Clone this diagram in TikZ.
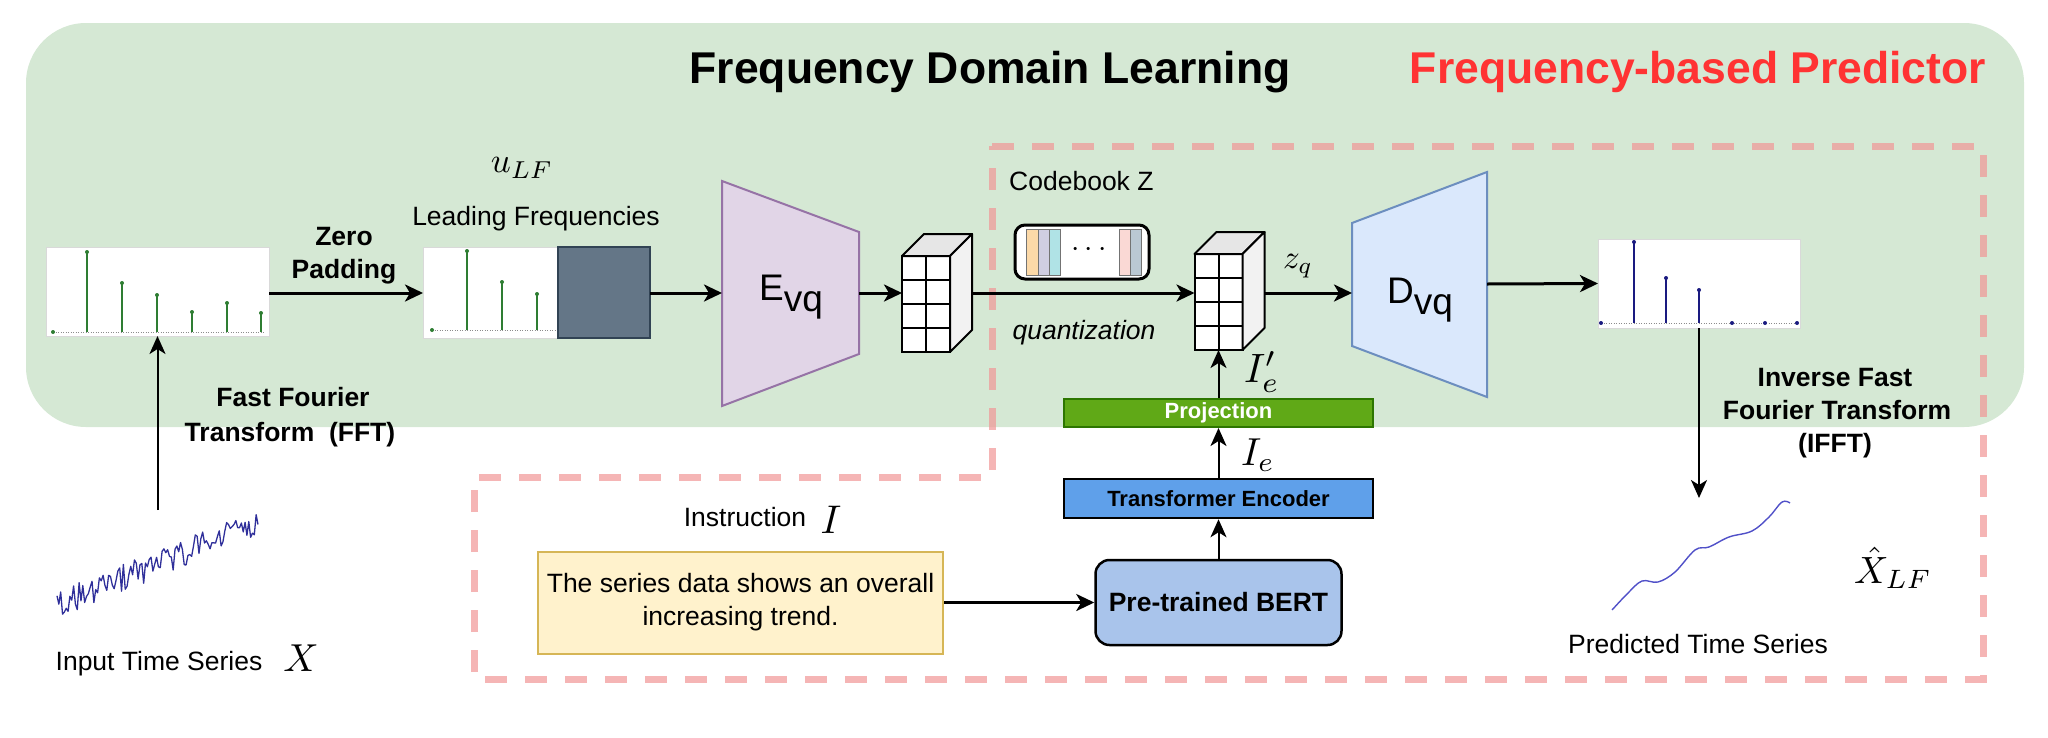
\RequirePackage{fix-cm}
\documentclass[tikz,border=0pt]{standalone}
\usepackage[no-math]{fontspec}
\setmainfont{Liberation Sans}
\usetikzlibrary{arrows.meta,calc}

\definecolor{bggreen}{HTML}{D5E8D4}
\definecolor{redtitle}{HTML}{FF3333}
\definecolor{dashpink}{RGB}{241,150,150}
\definecolor{padfill}{HTML}{647687}
\definecolor{padline}{HTML}{314354}
\definecolor{evqfill}{HTML}{E1D5E7}
\definecolor{evqline}{HTML}{9673A6}
\definecolor{dvqfill}{HTML}{DAE8FC}
\definecolor{dvqline}{HTML}{6C8EBF}
\definecolor{projfill}{HTML}{60A917}
\definecolor{projline}{HTML}{2D7600}
\definecolor{tefill}{HTML}{5FA0EA}
\definecolor{bertfill}{HTML}{A9C4EB}
\definecolor{notefill}{HTML}{FFF2CC}
\definecolor{noteline}{HTML}{D6B656}
\definecolor{stemgreen}{HTML}{2E7D32}
\definecolor{stemblue}{HTML}{1A1A80}
\definecolor{seriesblue}{HTML}{2F2F9A}
\definecolor{predblue}{HTML}{5050C8}
\definecolor{cubetop}{HTML}{E6E6E6}
\definecolor{cubeside}{HTML}{F2F2F2}
\definecolor{cbA}{HTML}{FCD9A8}
\definecolor{cbB}{HTML}{D0CEE2}
\definecolor{cbC}{HTML}{B0E3E6}
\definecolor{cbD}{HTML}{FAD9D5}
\definecolor{cbE}{HTML}{BAC8D3}

\newcommand{\mth}[2]{\scalebox{#1}{\fontsize{10}{12}\selectfont$#2$}}
\newcommand{\cubefaces}[1]{%
  \filldraw[cubeface, fill=cubetop] (#1.north west) -- ++(22,-22) -- ++(48,0) -- (#1.north east) -- cycle;
  \filldraw[cubeface, fill=cubeside] (#1.north east) -- ++(22,-22) -- ++(0,96) -- (#1.south east) -- cycle;
  \draw[line width=2pt] (#1.north) -- (#1.south);
  \foreach \k in {1,2,3} \draw[line width=2pt] ($(#1.north west)!\k/4!(#1.south west)$) -- ($(#1.north east)!\k/4!(#1.south east)$);
}

\tikzset{
  arr/.style={line width=3pt, -{Stealth[length=18pt,width=17pt,inset=5pt]}},
  arrthin/.style={line width=2pt, -{Stealth[length=18pt,width=16pt,inset=5pt]}},
  lbl/.style={inner sep=0pt, font=\fontsize{26.5}{30}\selectfont},
  blbl/.style={inner sep=0pt, font=\fontsize{26.5}{30}\selectfont\bfseries},
  mlbl/.style={inner sep=0pt},
  specbox/.style={draw=black!15, fill=white, line width=1pt, inner sep=0pt, outer sep=0pt},
  stemG/.style={draw=stemgreen, line width=1.6pt},
  stemB/.style={draw=stemblue, line width=1.6pt},
  baseln/.style={draw=black!45, line width=0.8pt, dash pattern=on 1pt off 1.5pt},
  cubefront/.style={draw, fill=white, line width=2pt, minimum width=48pt, minimum height=96pt, inner sep=0pt, outer sep=0pt},
  cubeface/.style={draw, line width=2pt, line join=round},
  trap/.style={line width=2pt, line join=miter},
}

\begin{document}
\begin{tikzpicture}[x=1pt,y=-1pt]
\useasboundingbox (0,0) rectangle (2048,737);

% green background
\fill[bggreen, rounded corners=60pt] (26,23) rectangle (2024,427);

% red dashed region
\draw[dashpink, opacity=0.7, line width=7pt, dash pattern=on 22pt off 18pt, line join=miter]
  (992,146) -- (1983,146) -- (1983,679) -- (474,679) -- (474,477) -- (992,477) -- cycle;

% titles
\node[anchor=base, inner sep=0pt, font=\fontsize{44.5}{50}\selectfont\bfseries] (title) at (990,83) {Frequency Domain Learning};
\node[anchor=base, inner sep=0pt, font=\fontsize{44.5}{50}\selectfont\bfseries, text=redtitle] (title2) at (1698,83) {Frequency-based Predictor};

% spectrum 1
\node[specbox, minimum width=223pt, minimum height=89pt] (spec1) at (157.5,291.5) {};
\draw[baseln] (53,332) -- (265,332);
\fill[stemgreen] (53,332) circle[radius=2pt];
\foreach \x/\t in {87/252,122/283,157/295,192/312,227/303,261/313} {
  \draw[stemG] (\x,332) -- (\x,\t);
  \fill[stemgreen] (\x,\t) circle[radius=2pt];
}

% spectrum 2 + padding
\node[specbox, minimum width=135pt, minimum height=91pt] (spec2) at (490.5,292.5) {};
\draw[baseln] (432,330) -- (556,330);
\fill[stemgreen] (432,330) circle[radius=2pt];
\foreach \x/\t in {467/251,502/282,537/294} {
  \draw[stemG] (\x,330) -- (\x,\t);
  \fill[stemgreen] (\x,\t) circle[radius=2pt];
}
\node[draw=padline, fill=padfill, line width=2.5pt, minimum width=92pt, minimum height=91pt, inner sep=0pt, outer sep=0pt] (pad) at (604,292.5) {};

% labels near spectra
\node[mlbl] (ulf) at (522,168) {\mth{3.5}{u_{LF}}};
\node[lbl, anchor=base] (leadfreq) at (536,225) {Leading Frequencies};
\node[blbl, anchor=base] (zero) at (344,245) {Zero};
\node[blbl, anchor=base] (padding) at (344,278) {Padding};
\draw[arr] (spec1.east |- 0,293) -- (spec2.west |- 0,293);

% E_vq
\filldraw[trap, fill=evqfill, draw=evqline] (722,181) -- (859,232) -- (859,354) -- (722,406) -- cycle;
\node[anchor=base, inner sep=0pt, font=\fontsize{37}{42}\selectfont] (evq) at (791,300) {E\raisebox{-11pt}{vq}};
\coordinate (evqL) at (722,293);
\coordinate (evqR) at (859,293);
\draw[arr] (pad.east |- evqL) -- (evqL);

% cube 1
\node[cubefront] (cubeA) at (926,304) {};
\cubefaces{cubeA}
\draw[arr] (evqR) -- (evqR -| cubeA.west);

% codebook
\node[draw, line width=3pt, rounded corners=10pt, fill=white, minimum width=134pt, minimum height=54pt, inner sep=0pt] (cb) at (1082,252) {};
\foreach \a/\b/\c in {1026/1038/cbA,1038/1049/cbB,1049/1060/cbC,1119/1130/cbD,1130/1141/cbE} {
  \filldraw[fill=\c, draw=black!55, line width=0.8pt] (\a,229) rectangle (\b,275);
}
\node[inner sep=0pt, font=\fontsize{30}{30}\selectfont] (cbdots) at (1089,250) {$\cdots$};
\node[lbl, anchor=base west] (cbz) at (1009,190) {Codebook Z};
\node[lbl, anchor=base, font=\fontsize{26.5}{30}\selectfont\itshape] (quant) at (1084,339) {quantization};

% cube 2
\node[cubefront] (cubeB) at (1218.5,302) {};
\cubefaces{cubeB}
\coordinate (cubeAr) at (972,293);
\draw[arr] (cubeAr) -- (cubeAr -| cubeB.west);
\node[mlbl] (zq) at (1298,266) {\mth{3.3}{z_q}};

% D_vq
\filldraw[trap, fill=dvqfill, draw=dvqline] (1352,223) -- (1487,172) -- (1487,397) -- (1352,346) -- cycle;
\node[anchor=base, inner sep=0pt, font=\fontsize{37}{42}\selectfont] (dvq) at (1420,303) {D\raisebox{-11pt}{vq}};
\coordinate (cubeBr) at (1265,293);
\coordinate (dvqL) at (1352,293);
\coordinate (dvqR) at (1487,284);
\draw[arr] (cubeBr) -- (dvqL);

% spectrum 3
\node[specbox, minimum width=202pt, minimum height=89pt] (spec3) at (1699,283.5) {};
\draw[baseln] (1601,323) -- (1797,323);
\foreach \x in {1601,1732,1765,1797} \fill[stemblue] (\x,323) circle[radius=2pt];
\foreach \x/\t in {1634/242,1666/278,1699/290} {
  \draw[stemB] (\x,323) -- (\x,\t);
  \fill[stemblue] (\x,\t) circle[radius=2pt];
}
\draw[arr] (dvqR) -- (spec3.west);

% instruction path
\node[draw=projline, fill=projfill, line width=2pt, minimum width=309pt, minimum height=28pt, inner sep=0pt, text=white, font=\fontsize{22}{24}\selectfont\bfseries] (proj) at (1218.5,413) {Projection};
\node[draw=black, fill=tefill, line width=2.5pt, minimum width=309pt, minimum height=39pt, inner sep=0pt, font=\fontsize{22}{24}\selectfont\bfseries] (te) at (1218.5,498.5) {Transformer Encoder};
\node[draw=black, fill=bertfill, line width=2.5pt, rounded corners=14pt, minimum width=246pt, minimum height=85pt, inner sep=0pt, font=\fontsize{26.5}{30}\selectfont\bfseries] (bert) at (1218.5,602.5) {Pre-trained BERT};
\node[draw=noteline, fill=notefill, line width=2pt, minimum width=405pt, minimum height=102pt, inner sep=0pt, align=center, font=\fontsize{26.5}{33}\selectfont] (note) at (740.5,602.5) {The series data shows an overall\\increasing trend.};
\draw[arr] (note.east) -- (bert.west);
\draw[arrthin] (bert.north) -- (te.south);
\draw[arrthin] (te.north) -- (proj.south);
\draw[arrthin] (proj.north) -- (cubeB.south);
\node[mlbl] (iep) at (1262,372) {\mth{4.1}{I'_e}};
\node[mlbl] (ie) at (1258,455) {\mth{3.9}{I_e}};
\node[lbl, anchor=base] (instr) at (745,526) {Instruction};
\node[mlbl] (instI) at (831,520) {\mth{4.0}{I}};

% input series + FFT
\pgfmathsetseed{42}
\draw[seriesblue, line width=1.3pt, line join=round] plot[domain=57:258, samples=110, variable=\t] (\t, {604 - 0.40*(\t-57) + 14*rand});
\coordinate (inptop) at (157.5,510);
\draw[arrthin] (inptop) -- (spec1.south);
\node[blbl, anchor=base] (fft1) at (293,406) {Fast Fourier};
\node[blbl, anchor=base] (fft2) at (290,441) {Transform \ (FFT)};
\node[lbl, anchor=base] (inplbl) at (159,670) {Input Time Series};
\node[mlbl] (inpX) at (301,658) {\mth{3.9}{X}};

% IFFT + predicted series
\coordinate (predtop) at (1699,498);
\draw[arrthin] (spec3.south) -- (predtop);
\node[blbl, anchor=base] (ifft1) at (1835,386) {Inverse Fast};
\node[blbl, anchor=base] (ifft2) at (1837,419) {Fourier Transform};
\node[blbl, anchor=base] (ifft3) at (1835,452) {(IFFT)};
\draw[predblue, line width=1.4pt] plot[smooth, tension=0.6] coordinates {(1612,610) (1628,593) (1642,581) (1658,582) (1675,572) (1695,550) (1709,547) (1729,537) (1752,531) (1769,517) (1782,502) (1790,503)};
\node[lbl, anchor=base] (predlbl) at (1698,653) {Predicted Time Series};
\node[mlbl] (xhat) at (1893,568) {\mth{3.8}{\hat{X}_{LF}}};
\end{tikzpicture}
\end{document}
